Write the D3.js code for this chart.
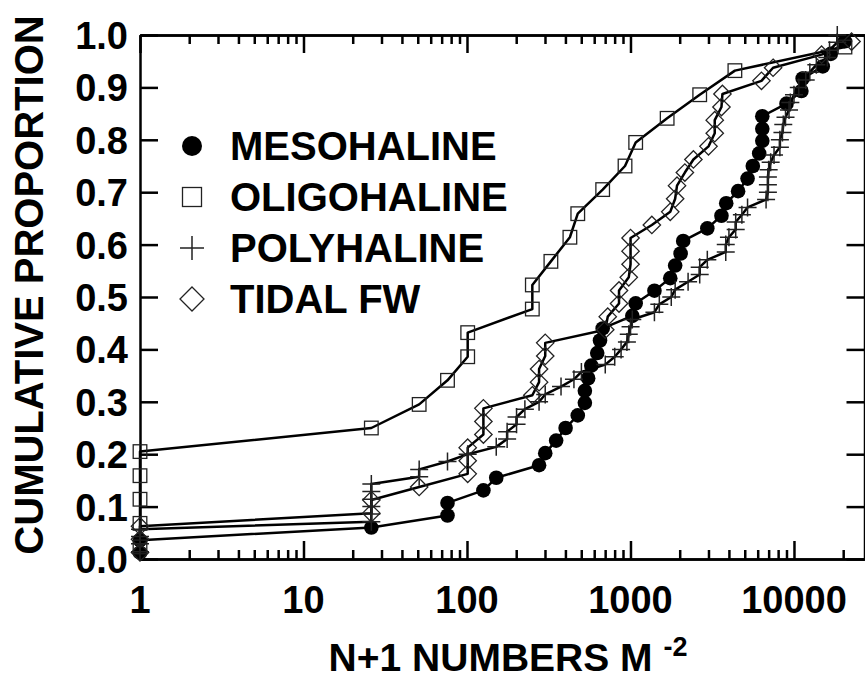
<!DOCTYPE html>
<html><head><meta charset="utf-8">
<script src="https://cdn.jsdelivr.net/npm/d3@7"></script>
<style>html,body{margin:0;padding:0;background:#fff;}svg{display:block;font-family:"Liberation Sans",Arial,sans-serif;font-weight:bold;}</style>
</head><body>
<svg id="c" width="865" height="679"></svg>
<script>
// ---------- data ----------
const mesoX = [1,1,26,76,76,126,151,276,301,351,401,476,526,526,551,576,626,651,676,1026,1076,1401,1751,1876,2026,2101,2951,3601,3851,4551,5201,5601,6126,6401,6401,6401,9001,11101,11301,15001,16801,20501];
const mesoP = [0.012,0.036,0.060,0.083,0.107,0.131,0.155,0.179,0.202,0.226,0.250,0.274,0.298,0.321,0.345,0.369,0.393,0.417,0.440,0.464,0.488,0.512,0.536,0.560,0.583,0.607,0.631,0.655,0.679,0.702,0.726,0.750,0.774,0.798,0.821,0.845,0.869,0.893,0.917,0.940,0.964,0.988];

const oligoX = [1,1,1,1,1,26,51,76,101,101,251,251,326,426,476,676,926,1076,1676,2651,4351,20501];
const oligoP = [0.023,0.068,0.114,0.159,0.205,0.250,0.295,0.341,0.386,0.432,0.477,0.523,0.568,0.614,0.659,0.705,0.750,0.795,0.841,0.886,0.932,0.977];

const polyX = [1,1,1,1,26,26,26,26,26,26,51,51,76,101,151,176,176,201,201,226,276,301,376,451,501,701,801,876,951,976,1001,1026,1401,1501,1776,1876,2251,2651,2651,2951,3826,3826,4001,4401,4401,4801,5201,6751,6926,6926,6926,7001,7201,7551,8201,8201,8501,8601,8876,9326,9501,10001,10701,11801,12501,13701,16001,16501,18401,18401];
const polyP = [0.014,0.029,0.043,0.057,0.071,0.086,0.100,0.114,0.129,0.143,0.157,0.171,0.186,0.200,0.214,0.229,0.243,0.257,0.271,0.286,0.300,0.314,0.329,0.343,0.357,0.371,0.386,0.400,0.414,0.429,0.443,0.457,0.471,0.486,0.500,0.514,0.529,0.543,0.557,0.571,0.586,0.600,0.614,0.629,0.643,0.657,0.671,0.686,0.700,0.714,0.729,0.743,0.757,0.771,0.786,0.800,0.814,0.829,0.843,0.857,0.871,0.886,0.900,0.914,0.929,0.943,0.957,0.971,0.986,1.000];

const tidalX = [1,1,1,26,26,51,101,101,101,126,126,126,251,276,276,301,301,701,726,851,851,976,1001,1001,1001,1351,1751,1876,1926,2151,2426,3001,3276,3276,3601,3651,6326,7451,14751,22501];
const tidalP = [0.0125,0.0375,0.0625,0.0875,0.1125,0.1375,0.1625,0.1875,0.2125,0.2375,0.2625,0.2875,0.3125,0.3375,0.3625,0.3875,0.4125,0.4375,0.4625,0.4875,0.5125,0.5375,0.5625,0.5875,0.6125,0.6375,0.6625,0.6875,0.7125,0.7375,0.7625,0.7875,0.8125,0.8375,0.8625,0.8875,0.9125,0.9375,0.9625,0.9875];

const seriesNames = ["MESOHALINE","OLIGOHALINE","POLYHALINE","TIDAL FW"];
const xMajorTicks = [1,10,100,1000,10000];
const xTickLabels = ["1","10","100","1000","10000"];
const yTicks = [0,0.1,0.2,0.3,0.4,0.5,0.6,0.7,0.8,0.9,1.0];
const yTickLabels = ["0.0","0.1","0.2","0.3","0.4","0.5","0.6","0.7","0.8","0.9","1.0"];
const xTitle = "N+1 NUMBERS M";
const xTitleSup = "-2";
const yTitle = "CUMULATIVE PROPORTION";

// ---------- chart ----------
const svg = d3.select("#c");
const L = 140, R = 864.5, T = 35, B = 559;
const x = d3.scaleLog().domain([1, 27000]).range([L, R]);
const y = d3.scaleLinear().domain([0, 1]).range([B, T]);

const minor = [];
for (let d = 1; d <= 10000; d *= 10) for (let k = 2; k <= 9; k++) if (d*k <= 27000) minor.push(d*k);

const axW = 2.5;
function addAxis(gen, tx, ty) {
  const g = svg.append("g").attr("transform", `translate(${tx},${ty})`).call(gen);
  g.selectAll("text").remove();
  g.select(".domain").attr("stroke", "#000").attr("stroke-width", axW);
  g.selectAll(".tick line").attr("stroke", "#000").attr("stroke-width", axW);
  return g;
}
addAxis(d3.axisBottom(x).tickValues(xMajorTicks).tickSizeInner(-18).tickSizeOuter(0), 0, B);
addAxis(d3.axisBottom(x).tickValues(minor).tickSizeInner(-9).tickSizeOuter(0), 0, B);
addAxis(d3.axisTop(x).tickValues(xMajorTicks).tickSizeInner(-18).tickSizeOuter(0), 0, T);
addAxis(d3.axisTop(x).tickValues(minor).tickSizeInner(-9).tickSizeOuter(0), 0, T);
addAxis(d3.axisLeft(y).tickValues(yTicks).tickSizeInner(-18).tickSizeOuter(0), L, 0);
addAxis(d3.axisRight(y).tickValues(yTicks).tickSizeInner(-18).tickSizeOuter(0), R, 0);

// tick labels
svg.append("g").selectAll("text").data(xMajorTicks).join("text")
  .attr("x", d => x(d)).attr("y", 613).attr("text-anchor", "middle")
  .attr("font-size", 38).text((d, i) => xTickLabels[i]);
svg.append("g").selectAll("text").data(yTicks).join("text")
  .attr("x", 128).attr("y", d => y(d) + 14).attr("text-anchor", "end")
  .attr("font-size", 38).text((d, i) => yTickLabels[i]);

// titles
const xt = svg.append("text").attr("x", 508).attr("y", 671).attr("text-anchor", "middle").attr("font-size", 39);
xt.append("tspan").text(xTitle + " ");
xt.append("tspan").attr("font-size", 27).attr("dy", -15).text(xTitleSup);
svg.append("text").attr("transform", "translate(43,285) rotate(-90)").attr("text-anchor", "middle")
  .attr("font-size", 40).text(yTitle);

// markers
const sym = {
  circle: (g, r) => g.append("circle").attr("r", r).attr("fill", "#000"),
  square: (g, r) => g.append("rect").attr("x", -r).attr("y", -r).attr("width", 2*r).attr("height", 2*r).attr("fill", "none").attr("stroke", "#222").attr("stroke-width", 1.3),
  plus: (g, r) => g.append("path").attr("d", `M${-r},0H${r}M0,${-r}V${r}`).attr("fill", "none").attr("stroke", "#222").attr("stroke-width", 1.5),
  diamond: (g, r) => g.append("path").attr("d", `M0,${-r}L${r},0L0,${r}L${-r},0Z`).attr("fill", "none").attr("stroke", "#222").attr("stroke-width", 1.3)
};

const series = [
  {xs: mesoX, ps: mesoP, s: "circle", r: 7.3},
  {xs: oligoX, ps: oligoP, s: "square", r: 6.8},
  {xs: polyX, ps: polyP, s: "plus", r: 9},
  {xs: tidalX, ps: tidalP, s: "diamond", r: 8.7}
];
const line = d3.line().x(d => x(d[0])).y(d => y(d[1]));
const plot = svg.append("g");
series.forEach(se => {
  const pts = se.xs.map((v, i) => [v, se.ps[i]]);
  plot.append("path").attr("d", line(pts)).attr("fill", "none").attr("stroke", "#000").attr("stroke-width", 2.5).attr("stroke-linejoin", "round");
});
series.forEach(se => {
  const pts = se.xs.map((v, i) => [v, se.ps[i]]);
  pts.forEach(p => {
    const g = plot.append("g").attr("transform", `translate(${x(p[0])},${y(p[1])})`);
    sym[se.s](g, se.r);
  });
});

// legend
const legY = [146, 197, 248, 299];
const legR = [10, 9.5, 12, 12];
series.forEach((se, i) => {
  const g = svg.append("g").attr("transform", `translate(192,${legY[i]})`);
  sym[se.s](g, legR[i]);
  svg.append("text").attr("x", 230).attr("y", legY[i] + 14).attr("font-size", 40).text(seriesNames[i]);
});
</script>
</body></html>
